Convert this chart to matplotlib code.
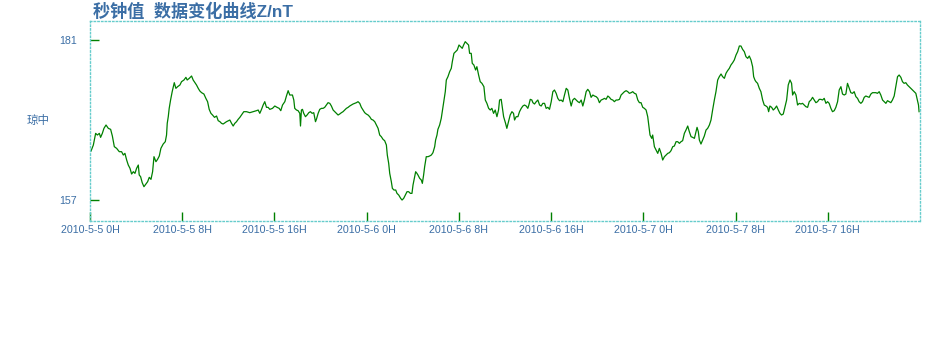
import matplotlib
matplotlib.use("Agg")
import matplotlib.pyplot as plt

# ------------------ DATOS ------------------
# horas desde 2010-5-5 0H
horas = [
    0.09, 0.29, 0.49, 0.64, 0.81, 0.92, 1.07, 1.21, 1.39, 1.59, 1.79, 1.94, 2.11, 2.31, 2.54, 2.74,
    2.89, 3.03, 3.18, 3.32, 3.47, 3.61, 3.76, 3.90, 4.04, 4.19, 4.27, 4.39, 4.53, 4.68, 4.85, 5.00,
    5.14, 5.29, 5.43, 5.55, 5.72, 5.86, 6.01, 6.15, 6.35, 6.53, 6.64, 6.70, 6.79, 6.87, 6.99, 7.13,
    7.31, 7.45, 7.60, 7.80, 7.94, 8.15, 8.32, 8.43, 8.61, 8.81, 8.95, 9.10, 9.24, 9.39, 9.53, 9.68,
    9.88, 10.05, 10.20, 10.34, 10.49, 10.63, 10.80, 10.98, 11.12, 11.27, 11.41, 11.55, 11.84, 12.13,
    12.28, 12.42, 12.56, 12.71, 12.85, 13.00, 13.20, 13.34, 13.58, 13.86, 14.15, 14.44, 14.59, 14.73,
    14.88, 15.02, 15.16, 15.31, 15.45, 15.60, 15.83, 16.03, 16.23, 16.41, 16.55, 16.70, 16.90, 17.04,
    17.19,
    17.33, 17.56, 17.68, 17.76, 17.91, 18.05, 18.20, 18.26, 18.34, 18.43, 18.54, 18.69, 18.83, 18.98,
    19.12, 19.27, 19.41, 19.56, 19.64, 19.79, 19.93, 20.08, 20.22, 20.36, 20.51, 20.65, 20.80, 20.94,
    21.09, 21.23, 21.38, 21.52, 21.66, 21.81, 21.95, 22.10, 22.24, 22.39, 22.53, 22.67, 22.82, 22.96,
    23.11, 23.25, 23.40, 23.54, 23.69, 23.83, 23.97, 24.12, 24.26, 24.41, 24.55, 24.70, 24.84, 24.99,
    25.13, 25.27, 25.42, 25.56, 25.71, 25.79, 25.91, 26.00, 26.14, 26.23, 26.37, 26.52, 26.63, 26.78,
    26.95, 27.07, 27.21, 27.35, 27.50, 27.64, 27.79, 27.93, 28.02, 28.16, 28.25, 28.36, 28.45, 28.60,
    28.74, 28.83, 28.94, 29.03, 29.17, 29.32, 29.46, 29.61, 29.75, 29.90, 29.98, 30.10, 30.18, 30.33,
    30.47, 30.62, 30.70, 30.82, 30.91, 31.05, 31.20, 31.34, 31.43, 31.57, 31.72, 31.86, 32.01, 32.15,
    32.29, 32.41, 32.55, 32.70, 32.84, 32.93, 33.07, 33.16, 33.30, 33.45, 33.56, 33.71, 33.85, 34.00,
    34.17, 34.29, 34.43, 34.58, 34.72, 34.86, 35.01, 35.15, 35.30, 35.44,
    35.53, 35.67, 35.76, 35.88, 36.05, 36.16, 36.25, 36.34, 36.45, 36.60, 36.74, 36.83, 36.97, 37.12,
    37.26, 37.41, 37.55, 37.69, 37.84, 37.98, 38.07, 38.19, 38.33, 38.42, 38.56, 38.71, 38.85, 39.00,
    39.14, 39.28, 39.43, 39.57, 39.72, 39.86, 40.01, 40.15, 40.29, 40.44, 40.58, 40.73, 40.87, 41.02,
    41.16, 41.31, 41.45, 41.59, 41.74, 41.88, 42.03, 42.17, 42.32, 42.46, 42.61, 42.75, 42.89, 43.04,
    43.18, 43.33, 43.47, 43.62, 43.76, 43.91, 44.05, 44.19, 44.34, 44.48, 44.63, 44.77, 44.92, 45.06,
    45.20, 45.35, 45.49, 45.64, 45.78, 45.93, 46.07, 46.22, 46.36, 46.51, 46.65, 46.79, 46.94, 47.08,
    47.23, 47.37, 47.52, 47.66, 47.80, 47.95, 48.09, 48.24, 48.38, 48.47, 48.58, 48.73, 48.81, 48.96,
    49.10, 49.25, 49.39, 49.54, 49.68, 49.83, 49.97, 50.12, 50.26, 50.40, 50.55, 50.69, 50.84, 50.98,
    51.13, 51.27, 51.41, 51.56, 51.70, 51.85, 51.99, 52.14, 52.28, 52.43, 52.57, 52.66, 52.77, 52.86,
    53.00, 53.15, 53.29, 53.44, 53.58,
    53.73, 53.87, 54.01, 54.16, 54.30, 54.45, 54.59, 54.74, 54.88, 55.03, 55.17, 55.31, 55.46, 55.60,
    55.75, 55.89, 56.04, 56.18, 56.33, 56.47, 56.61, 56.76, 56.90, 57.05, 57.19, 57.34, 57.48, 57.57,
    57.68, 57.77, 57.91, 58.06, 58.20, 58.35, 58.49, 58.64, 58.78, 58.87, 58.98, 59.13, 59.27, 59.42,
    59.56, 59.71, 59.85, 59.99, 60.14, 60.28, 60.43, 60.57, 60.72, 60.86, 60.95, 61.09, 61.24, 61.38,
    61.53, 61.67, 61.81, 61.96, 62.10, 62.25, 62.39, 62.54, 62.68, 62.83, 62.97, 63.11, 63.26, 63.40,
    63.55, 63.69, 63.84, 63.98, 64.12, 64.27, 64.41, 64.56, 64.70, 64.85, 64.99, 65.14, 65.28, 65.43,
    65.57, 65.71, 65.86, 66.00, 66.15, 66.29, 66.44, 66.58, 66.72, 66.87, 67.01, 67.16, 67.30, 67.45,
    67.59, 67.74, 67.88, 68.17, 68.31, 68.46, 68.60, 68.75, 68.89, 69.04, 69.18, 69.32, 69.47, 69.61,
    69.76, 69.90, 70.05, 70.19, 70.34, 70.48, 70.62, 70.77, 70.91, 71.06, 71.20, 71.35, 71.49, 71.64,
    71.78, 71.87, 71.92,
]

# valores Z (nT)
valores = [
    164.40, 165.30, 167.05, 166.80, 167.05, 166.45, 167.05, 167.80, 168.30, 167.80, 167.65, 166.65,
    165.05, 164.80, 164.30, 164.30, 163.80, 164.05, 163.05, 162.30, 161.80, 160.95, 161.30, 161.05,
    161.80, 162.30, 160.80, 160.55, 159.65, 159.05, 159.45, 159.80, 160.45, 160.15, 161.30, 163.55,
    162.80, 163.15, 163.65, 164.80, 165.45, 165.80, 166.80, 168.55, 169.55, 170.80, 172.05, 173.30,
    174.65, 173.80, 174.05, 174.30, 174.80, 175.05, 175.45, 175.05, 175.30, 175.65, 175.05, 174.65,
    174.30, 173.80, 173.40, 173.15, 172.95, 172.30, 171.80, 170.65, 170.05, 169.80, 169.45, 169.65,
    168.95, 168.80, 168.55, 168.45, 168.80, 169.05, 168.55, 168.15, 168.55, 168.80, 169.15, 169.45,
    169.95, 170.30, 170.30, 170.15, 170.30, 170.45, 170.55, 170.05, 170.65, 171.30, 171.80, 170.95,
    170.95, 170.65, 170.80, 171.15, 170.95, 170.80, 170.45, 171.30, 171.80, 172.65, 173.45,
    172.80, 172.80, 172.05, 170.80, 170.55, 170.45, 170.05, 168.15, 170.55, 170.65, 170.05, 169.55,
    169.80, 170.15, 170.30, 170.05, 170.15, 168.80, 169.15, 170.05, 170.65, 170.80, 170.80, 170.95,
    171.30, 171.65, 171.55, 171.15, 170.55, 170.30, 170.05, 169.80, 169.95, 170.15, 170.30, 170.55,
    170.80, 170.95, 171.15, 171.30, 171.45, 171.55, 171.65, 171.80, 171.55, 170.95, 170.55, 170.15,
    169.95, 169.80, 169.55, 169.15, 169.05, 168.80, 168.30, 167.80, 166.80, 166.55, 166.15, 165.95,
    165.30, 163.80, 162.55, 161.05, 159.80, 158.80, 158.55, 158.55, 158.05, 157.80, 157.30, 157.05,
    157.30, 157.80, 158.30, 158.30, 158.05, 158.05, 159.30, 160.55, 161.30, 161.05, 160.80, 160.30,
    160.05, 159.55, 160.80, 162.05, 163.55, 163.55, 163.65, 163.80, 164.15, 165.05, 166.05, 166.80,
    167.65, 168.30, 169.30, 171.05, 172.05, 173.30, 175.05, 175.55, 176.30, 176.80, 177.80, 179.05,
    179.30, 179.55, 180.30, 180.05, 179.80, 180.30, 180.80, 180.55, 180.30, 179.05, 179.05, 177.55,
    177.30, 176.55, 177.05, 175.80, 174.80, 174.55, 174.05, 172.05, 171.55, 170.80, 170.55, 170.80,
    170.05, 170.55, 169.55, 170.55,
    172.05, 172.15, 171.05, 169.55, 168.55, 167.80, 168.45, 169.05, 169.80, 170.30, 170.05, 169.05,
    169.55, 169.55, 170.30, 170.80, 171.15, 171.30, 171.15, 170.80, 171.30, 172.15, 172.05, 171.65,
    171.45, 171.80, 172.05, 171.30, 171.15, 171.55, 171.55, 170.80, 170.95, 170.65, 171.80, 173.30,
    173.55, 173.05, 172.30, 171.95, 172.05, 171.80, 172.80, 173.80, 173.55, 172.30, 171.15, 172.05,
    172.30, 172.05, 171.80, 171.65, 172.05, 171.15, 172.05, 173.30, 173.65, 173.30, 172.45, 172.80,
    172.65, 172.55, 172.30, 171.65, 172.05, 172.15, 172.30, 172.15, 172.65, 172.45, 172.15, 172.05,
    171.80, 172.05, 172.05, 172.15, 172.80, 173.05, 173.30, 173.45, 173.30, 173.05, 173.15, 173.30,
    173.05, 172.95, 172.05, 171.65, 171.65, 170.95, 170.80, 170.55, 169.55, 168.30, 166.80, 166.30,
    166.80, 165.05, 164.55, 164.05, 164.80, 164.05, 163.05, 163.55, 163.80, 164.05, 164.15, 164.45,
    165.05, 165.15, 165.80, 165.80, 165.55, 165.80, 165.95, 167.05, 167.55, 168.15, 167.30, 166.55,
    166.45, 166.30, 167.30, 167.95, 167.30, 166.05, 165.45, 166.05, 166.65, 167.55, 167.80,
    168.30, 169.05, 170.55, 172.05, 173.30, 175.05, 175.55, 175.95, 175.55, 175.30, 176.05, 176.45,
    176.80, 177.30, 177.65, 178.05, 178.80, 179.30, 180.15, 180.15, 179.65, 179.30, 178.55, 178.30,
    178.65, 178.05, 177.05, 175.55, 175.05, 174.80, 174.55, 173.80, 173.30, 172.05, 171.30, 171.15,
    170.95, 170.30, 171.15, 170.95, 170.55, 170.80, 171.15, 170.55, 170.05, 169.80, 169.95, 170.95,
    172.05, 174.30, 175.05, 174.55, 172.80, 173.30, 172.80, 171.30, 171.55, 171.45, 171.55, 171.30,
    171.05, 170.95, 171.80, 172.05, 172.45, 172.05, 171.65, 171.80, 172.15, 172.15, 172.05, 172.30,
    171.55, 171.80, 171.55, 170.80, 170.30, 170.45, 170.95, 171.80, 173.55, 174.05, 172.95, 172.80,
    172.95, 174.55, 173.80, 173.15, 173.05, 173.30, 172.55, 172.30, 171.80, 171.55, 171.80, 172.45,
    172.65, 172.55, 172.45, 172.95, 173.15, 173.15, 173.05, 173.30, 172.80, 172.05, 171.80, 171.55,
    171.95, 171.80, 171.65, 172.05, 172.65, 174.05, 175.55, 175.80, 175.45, 174.80, 174.55, 174.65,
    174.30, 174.05, 173.80, 173.55, 173.30, 173.05, 171.95, 171.30, 170.30,
]

ticks_x = [0, 8, 16, 24, 32, 40, 48, 56, 64]
etiquetas_x = ["2010-5-5 0H", "2010-5-5 8H", "2010-5-5 16H",
               "2010-5-6 0H", "2010-5-6 8H", "2010-5-6 16H",
               "2010-5-7 0H", "2010-5-7 8H", "2010-5-7 16H"]
ticks_y = [157, 181]

# ------------------ GRAFICADO ------------------
azul = "#3b6ea5"
verde = "#008000"

fig = plt.figure(figsize=(9.5, 3.4), dpi=100)
ax = fig.add_axes([90 / 950, 1 - 220.7 / 340, 830 / 950, 199.7 / 340])

ax.plot(horas, valores, color=verde, linewidth=0.9)

ax.set_xlim(0, 72)
ax.set_ylim(153.95, 183.9)

ax.set_xticks(ticks_x)
ax.set_xticklabels(etiquetas_x, family="Liberation Sans", fontsize=7.7, color=azul)
ax.set_yticks(ticks_y)
ax.set_yticklabels([str(v) for v in ticks_y], family="Liberation Sans", fontsize=7.7, color=azul)

ax.tick_params(axis="x", direction="in", length=6.5, width=1, color=verde, pad=3)
ax.tick_params(axis="y", direction="in", length=6.5, width=1, color=verde, pad=9.5)

for s in ax.spines.values():
    s.set_color("#66cccc")
    s.set_linestyle(":")
    s.set_linewidth(1.0)

ax.set_ylabel("琼中", rotation=0, family=["Noto Sans CJK SC", "DejaVu Sans"],
              fontsize=8.3, color=azul, va="center", ha="center")
ax.yaxis.set_label_coords(-0.0627, 0.5)

fig.text(93 / 950, 1 - 2.5 / 340, "秒钟值  数据变化曲线Z/nT", ha="left", va="top",
         family=["Liberation Sans", "Noto Sans CJK SC"], fontsize=12.3,
         fontweight="bold", color=azul)

fig.savefig("out.png", dpi=100)
